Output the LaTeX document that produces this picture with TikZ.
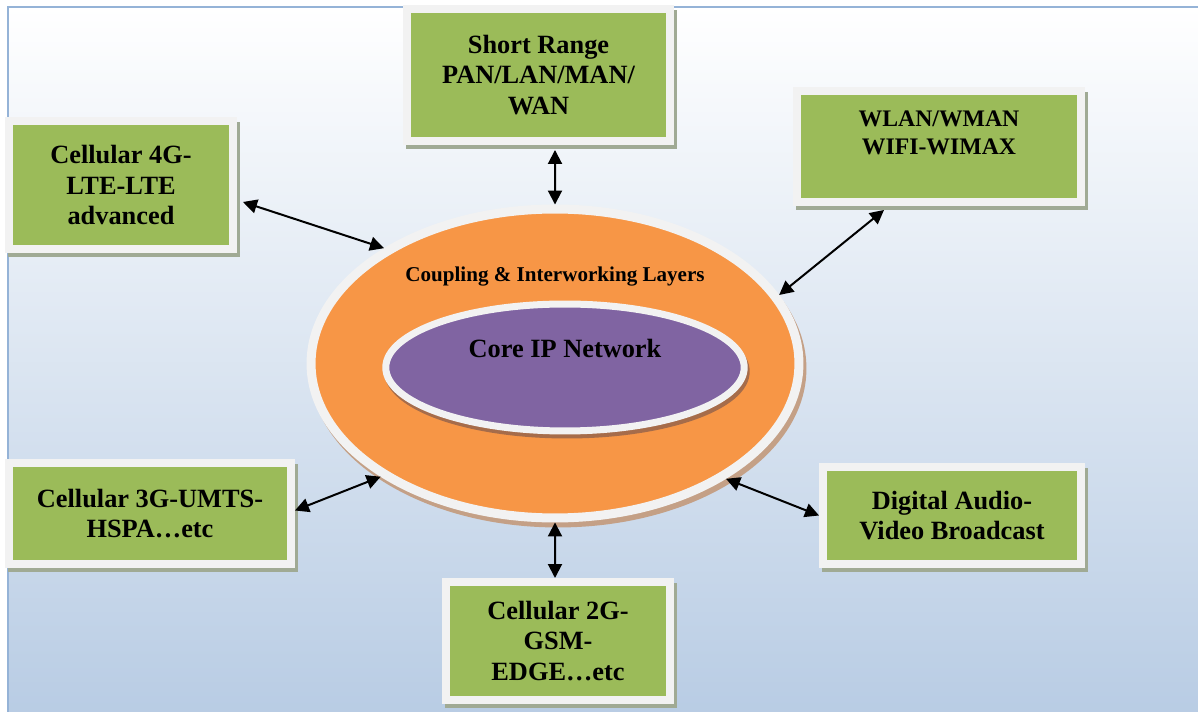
\documentclass[tikz,border=0pt]{standalone}
\usepackage{fontspec}
\setmainfont{Liberation Serif}
\usetikzlibrary{arrows.meta,shapes.geometric,shadows}

\definecolor{boxgreen}{HTML}{9BBB59}
\definecolor{rimwhite}{HTML}{F2F2F2}
\definecolor{boxshade}{RGB}{160,170,148}
\definecolor{ringorange}{HTML}{F79646}
\definecolor{ringshade}{RGB}{196,160,134}
\definecolor{corepurple}{HTML}{8064A2}
\definecolor{coreshade}{RGB}{166,108,74}
\definecolor{framelin}{HTML}{95B3D7}
\definecolor{bgblue}{RGB}{184,204,228}

\tikzset{
	netbox/.style={draw=rimwhite, fill=boxgreen, line width=0.16cm, inner sep=0pt, align=center,
		font=\fontsize{15}{17.5}\selectfont\bfseries,
		general shadow={draw=boxshade, fill=boxshade, shadow xshift=0.06cm, shadow yshift=-0.09cm}},
	layer/.style={ellipse, draw=rimwhite, inner sep=0pt},
	link/.style={line width=0.04cm, >={Triangle[length=0.28cm,width=0.28cm]}, <->}
}

\begin{document}
\begin{tikzpicture}[x=0.02cm, y=-0.02cm]
			\useasboundingbox (0,0) rectangle (1198,712);
			
			% background and frame
			\shade[top color=white, bottom color=bgblue] (8,7) rectangle (1202,716);
			\draw[framelin, line width=0.04cm] (8,716) |- (1202,7);
			
			% coupling ring with the core inside
			\node[layer, fill=ringorange, line width=0.18cm, minimum width=9.76cm, minimum height=6.18cm,
				general shadow={draw=ringshade, fill=ringshade, shadow xshift=0.06cm, shadow yshift=-0.1cm}] (ring) at (555,363.5) {};
			\node[layer, fill=corepurple, line width=0.14cm, minimum width=7.17cm, minimum height=2.54cm,
				general shadow={draw=coreshade, fill=coreshade, shadow xshift=0.04cm, shadow yshift=-0.08cm}] (core) at (565,367.5) {};
			\node[font=\fontsize{12}{14}\selectfont\bfseries] (ringlbl) at (555,277) {Coupling \& Interworking Layers};
			\node[font=\fontsize{15}{17.5}\selectfont\bfseries] (corelbl) at (565,348) {Core IP Network};
			
			% access networks
			\node[netbox, minimum width=4.48cm, minimum height=2.56cm] (lte) at (121,185) {Cellular 4G-\\LTE-LTE\\advanced};
			\node[netbox, minimum width=5.26cm, minimum height=2.64cm] (srange) at (538.5,75) {Short Range\\PAN/LAN/MAN/\\WAN};
			\node[netbox, minimum width=5.68cm, minimum height=2.22cm, font=\fontsize{13.5}{15.9}\selectfont\bfseries] (wlan) at (939,146.5) {WLAN/WMAN\\WIFI-WIMAX\\\mbox{}};
			\node[netbox, minimum width=5.64cm, minimum height=2.02cm] (umts) at (150,513.5) {Cellular 3G-UMTS-\\HSPA…etc};
			\node[netbox, minimum width=5.16cm, minimum height=1.94cm] (dvb) at (952,515.5) {Digital Audio-\\Video Broadcast};
			\node[netbox, minimum width=4.48cm, minimum height=2.36cm] (gsm) at (558,641) {Cellular 2G-\\GSM-\\EDGE…etc};
			
			% links to the ring
			\draw[link] ([xshift=0.12cm, yshift=-0.34cm]lte.east) -- (ring.146.7);
			\draw[link] ([xshift=0.33cm, yshift=-0.1cm]srange.south) -- (ring.north);
			\draw[link] ([xshift=-1.1cm, yshift=-0.08cm]wlan.south) -- (ring.17);
			\draw[link] ([yshift=0.06cm]umts.east) -- (ring.213.3);
			\draw[link] (dvb.west) -- (ring.326.8);
			\draw[link] ([xshift=-0.06cm]gsm.north) -- (ring.south);
			
\end{tikzpicture}
\end{document}
